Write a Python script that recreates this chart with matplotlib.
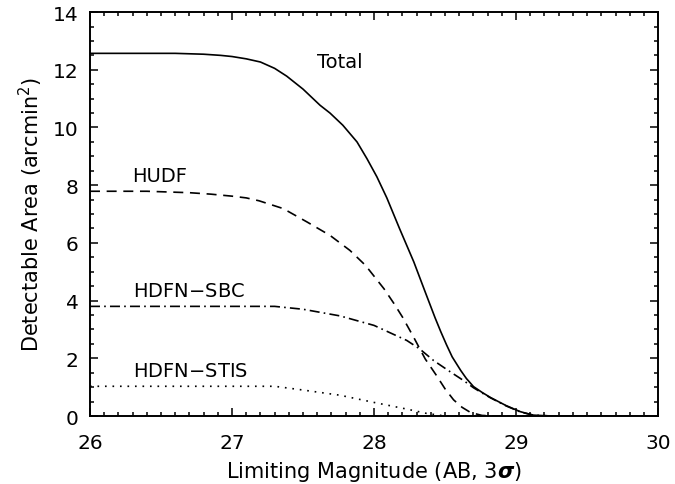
import numpy as np
from matplotlib import pyplot as plt
from matplotlib.ticker import MultipleLocator

# valores (magnitud, area)
mag_total = [26.0, 26.6, 26.8, 26.92, 27.0, 27.1, 27.2, 27.3, 27.385, 27.5,
             27.62, 27.69, 27.78, 27.88, 27.95, 28.02, 28.09, 28.18, 28.28, 28.36,
             28.43, 28.47, 28.51, 28.55, 28.61, 28.65, 28.70, 28.76, 28.82, 28.93,
             29.03, 29.12, 29.25, 30.0]
area_total = [12.57, 12.57, 12.54, 12.5, 12.46, 12.38, 12.27, 12.05, 11.78, 11.33,
              10.77, 10.5, 10.08, 9.50, 8.92, 8.29, 7.56, 6.49, 5.34, 4.30,
              3.40, 2.92, 2.47, 2.05, 1.58, 1.30, 1.02, 0.82, 0.64, 0.36,
              0.15, 0.03, 0.0, 0.0]

mag_hudf = [26.0, 26.4, 26.7, 26.85, 27.0, 27.1, 27.19, 27.36, 27.53, 27.69,
            27.83, 27.94, 28.07, 28.14, 28.20, 28.28, 28.36, 28.44, 28.50, 28.56,
            28.62, 28.68, 28.76, 28.85, 30.0]
area_hudf = [7.79, 7.79, 7.74, 7.69, 7.62, 7.56, 7.46, 7.19, 6.72, 6.26,
             5.74, 5.22, 4.41, 3.90, 3.43, 2.72, 1.98, 1.40, 0.94, 0.56,
             0.30, 0.12, 0.02, 0.0, 0.0]

mag_sbc = [26.0, 27.3, 27.5, 27.76, 28.0, 28.23, 28.32, 28.42, 28.54, 28.63,
           28.70, 28.76, 28.82, 28.93, 29.03, 29.12, 29.25, 30.0]
area_sbc = [3.80, 3.80, 3.70, 3.47, 3.14, 2.62, 2.33, 1.92, 1.52, 1.23,
            0.98, 0.80, 0.63, 0.35, 0.14, 0.03, 0.0, 0.0]

mag_stis = [26.0, 27.3, 27.5, 27.76, 28.0, 28.23, 28.37, 28.5, 30.0]
area_stis = [1.03, 1.03, 0.9, 0.72, 0.47, 0.24, 0.09, 0.0, 0.0]

etiquetas = ['Total', 'HUDF', 'HDFN$-$SBC', 'HDFN$-$STIS']
pos_etiquetas = [(27.6, 12.3), (26.3, 8.33), (26.3, 4.34), (26.3, 1.56)]

plt.rcParams['font.family'] = ['DejaVu Sans']
plt.rcParams['mathtext.fontset'] = 'dejavusans'

fig = plt.figure(figsize=(6.75, 4.85), dpi=100)
ax = fig.add_axes([0.1333, 0.1402, 0.8417, 0.8328])

lw = 1.2
ax.plot(mag_total, area_total, color='black', lw=lw)
ax.plot(mag_hudf, area_hudf, color='black', lw=lw, linestyle=(0, (6, 4)))
ax.plot(mag_sbc, area_sbc, color='black', lw=lw, linestyle=(0, (6, 2.5, 1, 2.5)))
ax.plot(mag_stis, area_stis, color='black', lw=lw, linestyle=(0, (1, 3.5)))

for texto, (x, y) in zip(etiquetas, pos_etiquetas):
    ax.text(x, y, texto, fontsize=14, va='center', ha='left')

ax.set_xlim(26, 30)
ax.set_ylim(0, 14)
ax.xaxis.set_major_locator(MultipleLocator(1))
ax.xaxis.set_minor_locator(MultipleLocator(0.1))
ax.yaxis.set_major_locator(MultipleLocator(2))
ax.yaxis.set_minor_locator(MultipleLocator(0.5))
ax.tick_params(which='both', direction='in', top=True, right=True, width=1.1)
ax.tick_params(which='major', length=6, labelsize=14.5)
ax.tick_params(which='minor', length=3)
ax.tick_params(axis='x', which='major', pad=12)
ax.tick_params(axis='y', which='major', pad=8)
for s in ax.spines.values():
    s.set_linewidth(1.4)

# como en el original, el 0 y el 14 quedan dentro del eje
fig.canvas.draw()
ylabs = ax.get_yticklabels()
ylabs[0].set_va('bottom')
ylabs[-1].set_va('top')

ax.set_xlabel(r'Limiting Magnitude (AB, $3\boldsymbol{\sigma}$)', fontsize=15, labelpad=5)
ax.set_ylabel('Detectable Area (arcmin$^2$)', fontsize=15, labelpad=6)

fig.savefig('out.png', dpi=100)
